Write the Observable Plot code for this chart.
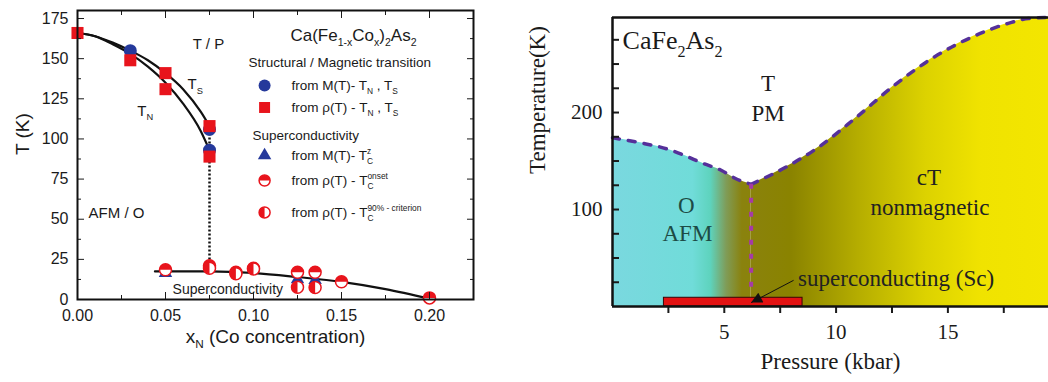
<!DOCTYPE html>
<html><head><meta charset="utf-8">
<script src="https://cdn.jsdelivr.net/npm/d3@7"></script>
<script src="https://cdn.jsdelivr.net/npm/@observablehq/plot@0.6"></script>
<style>
body{margin:0;background:#fff;}
#wrap{position:relative;width:1048px;height:382px;overflow:hidden;background:#fff;}
#left{position:absolute;left:0;top:0;}
#right{position:absolute;left:520px;top:0;}
</style></head><body><div id="wrap"><div id="left"></div><div id="right"></div></div>
<script>
// ================= Left panel data: Ca(Fe1-xCox)2As2 =================
const tsX = [0, 0.01, 0.02, 0.03, 0.04, 0.05, 0.06, 0.07, 0.075];
const tsT = [166, 164, 160, 155, 149, 141, 131, 117, 108];
const tnX = [0, 0.01, 0.02, 0.03, 0.04, 0.05, 0.06, 0.07, 0.075];
const tnT = [166, 164, 159, 153, 145, 135, 122, 105, 93];
const scX = [0.044, 0.075, 0.10, 0.125, 0.15, 0.175, 0.20];
const scT = [17.5, 17.5, 16.5, 14, 11, 6.5, 0.5];
const mMagX = [0.03, 0.075, 0.075];
const mMagT = [155, 106, 93];
const rMagX = [0, 0.03, 0.05, 0.05, 0.075, 0.075];
const rMagT = [166, 149, 141, 131, 108, 89];
const mScX = [0.05, 0.125, 0.135];
const mScT = [16.5, 12.5, 12];
const onsetX = [0.05, 0.075, 0.09, 0.10, 0.125, 0.135, 0.15, 0.20];
const onsetT = [18.5, 21, 17, 19.5, 17, 17, 11, 1];
const c90X = [0.075, 0.09, 0.10, 0.125, 0.135];
const c90T = [19.5, 16, 19, 7.6, 7.5];
const gapX = [0.075];
const gapT = [108, 22];
const lxTicks = [0, 0.05, 0.10, 0.15, 0.20];
const lxMinor = [0.025, 0.075, 0.125, 0.175];
const lyTicks = [0, 25, 50, 75, 100, 125, 150, 175];
const lyMinor = [12.5, 37.5, 62.5, 87.5, 112.5, 137.5, 162.5];
const legendTitle = "Ca(Fe_{1-x}Co_{x})_{2}As_{2}";
const legendHeads = ["Structural / Magnetic transition", "Superconductivity"];
const legendRows = ["from M(T)- T_{N} , T_{S}", "from ρ(T) - T_{N} , T_{S}",
  "from M(T)- T_{C}^{z}", "from ρ(T) - T_{C}^{onset}", "from ρ(T) - T_{C}^{90% - criterion}"];

// ================= Right panel data: CaFe2As2 =================
const afmP = [0, 1.2, 2.5, 3.2, 4.0, 4.9, 5.5, 6.2];
const afmT = [174, 169, 162, 156, 148, 140, 132, 126];
const ctP = [6.2, 7.7, 9.2, 10.9, 12.6, 14.3, 16.0, 17.7, 18.6, 19.5];
const ctT = [126, 143, 164, 195, 228, 256, 277, 292, 297, 298];
const scVertP = [6.2];
const scVertT = [126, 12];
const scBarP = [2.3, 8.5];
const scBarT = [0, 9];
const arrowP = [8.1, 6.2];
const arrowT = [27, 4];
const gradP = [0, 3.6, 4.4, 5.1, 5.8, 8, 11, 14, 16.5, 19.5];
const gradC = ["#7ad8df", "#70dcd9", "#5ed3bd", "#7f9c58", "#8a820e", "#8a8300", "#b5ad00", "#dcd200", "#f0e300", "#f3e600"];
const rxTicks = [5, 10, 15];
const rxMinor = [2.5, 7.5, 12.5, 17.5];
const ryTicks = [100, 200];
const ryMinor = [25, 50, 75, 125, 150, 175, 225, 250, 275];

// ================= helpers =================
const RED = "#e8141c", BLUE = "#25399b";
const zip = (xs, ys) => xs.map((x, i) => ({x, y: ys[i]}));
const halfTop = {draw(ctx, size) { const r = Math.sqrt(size / Math.PI); ctx.moveTo(-r, 0); ctx.arc(0, 0, r, Math.PI, 2 * Math.PI); ctx.closePath(); }};
const halfLeft = {draw(ctx, size) { const r = Math.sqrt(size / Math.PI); ctx.moveTo(0, -r); ctx.arc(0, 0, r, -Math.PI / 2, Math.PI / 2, true); ctx.closePath(); }};
const label = (t, x, y, o = {}) => Plot.text([t], {x: () => x, y: () => y, text: d => d, ...o});
const noText = () => "";

function richify(svg) {
  d3.select(svg).selectAll("text").each(function() {
    const el = this, s = el.textContent;
    if (!/[_^]\{/.test(s)) return;
    const fs = parseFloat(getComputedStyle(el).fontSize) || 16;
    const parts = s.split(/([_^]\{[^}]*\})/).filter(p => p !== "");
    while (el.firstChild) el.removeChild(el.firstChild);
    let shift = 0, lastSub = null;
    for (const p of parts) {
      const t = document.createElementNS("http://www.w3.org/2000/svg", "tspan");
      if (p[0] === "_" && p[1] === "{") {
        const target = 0.3 * fs;
        t.textContent = p.slice(2, -1);
        t.setAttribute("font-size", 0.62 * fs);
        t.setAttribute("dy", target - shift);
        el.appendChild(t); shift = target; lastSub = t;
      } else if (p[0] === "^" && p[1] === "{") {
        const target = -0.42 * fs;
        t.textContent = p.slice(2, -1);
        t.setAttribute("font-size", 0.62 * fs);
        t.setAttribute("dy", target - shift);
        el.appendChild(t);
        if (lastSub) t.setAttribute("dx", -lastSub.getComputedTextLength());
        shift = target; lastSub = null;
      } else {
        t.textContent = p;
        t.setAttribute("dy", -shift);
        el.appendChild(t); shift = 0; lastSub = null;
      }
    }
  });
}

// ================= Left plot =================
const LX = 0.1063, LT = 0.1216;
const left = Plot.plot({
  width: 520, height: 382, marginLeft: 77, marginRight: 47, marginTop: 10, marginBottom: 83,
  x: {domain: [0, 0.225]}, y: {domain: [0, 180]},
  style: {fontFamily: "'Liberation Sans', Arial, sans-serif", fontSize: "16px", color: "#1a1a1a", background: "white", overflow: "visible"},
  marks: [
    Plot.line(zip(tsX, tsT), {x: "x", y: "y", curve: "monotone-x", strokeWidth: 2.2, stroke: "#111"}),
    Plot.line(zip(tnX, tnT), {x: "x", y: "y", curve: "monotone-x", strokeWidth: 2.2, stroke: "#111"}),
    Plot.ruleX(gapX, {x: d => d, y1: gapT[0], y2: gapT[1], strokeWidth: 2.5, strokeDasharray: "2,2", stroke: "#111"}),
    Plot.line(zip(scX, scT), {x: "x", y: "y", curve: "monotone-x", strokeWidth: 2.2, stroke: "#111"}),
    Plot.dot(zip(mScX, mScT), {x: "x", y: "y", symbol: "triangle", r: 5, fill: BLUE}),
    Plot.dot(zip(onsetX, onsetT), {x: "x", y: "y", r: 6, fill: "white", stroke: RED, strokeWidth: 1.5}),
    Plot.dot(zip(onsetX, onsetT), {x: "x", y: "y", r: 6, symbol: halfTop, fill: RED}),
    Plot.dot(zip(c90X, c90T), {x: "x", y: "y", r: 6, fill: "white", stroke: RED, strokeWidth: 1.5}),
    Plot.dot(zip(c90X, c90T), {x: "x", y: "y", r: 6, symbol: halfLeft, fill: RED}),
    Plot.dot(zip(mMagX, mMagT), {x: "x", y: "y", r: 6.5, fill: BLUE}),
    Plot.dot(zip(rMagX, rMagT), {x: "x", y: "y", r: 6.8, symbol: "square", fill: RED}),
    // annotations
    label("T / P", 0.0744, 159, {fontSize: 15}),
    label("T_{S}", 0.0625, 134, {fontSize: 15, textAnchor: "start"}),
    label("T_{N}", 0.034, 117.5, {fontSize: 15, textAnchor: "start"}),
    label("AFM / O", 0.0063, 54, {fontSize: 15, textAnchor: "start"}),
    label("Superconductivity", 0.054, 6, {fontSize: 14, textAnchor: "start"}),
    // legend
    label(legendTitle, 0.121, 164.5, {fontSize: 17, textAnchor: "start"}),
    Plot.text(legendHeads, {x: [0.0972, 0.0994], y: [147.6, 102.1], text: d => d, fontSize: 13.5, textAnchor: "start"}),
    Plot.text(legendRows, {x: () => LT, y: [133.3, 119.6, 89.7, 74.1, 54.2], text: d => d, fontSize: 13.5, textAnchor: "start"}),
    Plot.dot([0], {x: () => LX, y: () => 133.3, r: 6, fill: BLUE}),
    Plot.dot([0], {x: () => LX, y: () => 119.6, r: 6.2, symbol: "square", fill: RED}),
    Plot.dot([0], {x: () => LX, y: () => 89.7, r: 5, symbol: "triangle", fill: BLUE}),
    Plot.dot([0], {x: () => LX, y: () => 74.1, r: 5.5, fill: "white", stroke: RED, strokeWidth: 1.5}),
    Plot.dot([0], {x: () => LX, y: () => 74.1, r: 5.5, symbol: halfTop, fill: RED}),
    Plot.dot([0], {x: () => LX, y: () => 54.2, r: 5.5, fill: "white", stroke: RED, strokeWidth: 1.5}),
    Plot.dot([0], {x: () => LX, y: () => 54.2, r: 5.5, symbol: halfLeft, fill: RED}),
    // axis titles
    Plot.text(["T (K)"], {frameAnchor: "left", rotate: -90, dx: -55, fontSize: 19, text: d => d}),
    Plot.text(["x_{N} (Co concentration)"], {frameAnchor: "bottom", dy: 43, fontSize: 19, text: d => d}),
    // axes (inward ticks, mirrored)
    Plot.axisX({anchor: "bottom", ticks: lxTicks, tickSize: -7, tickPadding: 17, tickFormat: d3.format(".2f"), label: null}),
    Plot.axisX({anchor: "bottom", ticks: lxMinor, tickSize: -4, tickFormat: noText, label: null}),
    Plot.axisX({anchor: "top", ticks: lxTicks, tickSize: -7, tickFormat: noText, label: null}),
    Plot.axisX({anchor: "top", ticks: lxMinor, tickSize: -4, tickFormat: noText, label: null}),
    Plot.axisY({anchor: "left", ticks: lyTicks, tickSize: -7, tickPadding: 16, label: null}),
    Plot.axisY({anchor: "left", ticks: lyMinor, tickSize: -4, tickFormat: noText, label: null}),
    Plot.axisY({anchor: "right", ticks: lyTicks, tickSize: -7, tickFormat: noText, label: null}),
    Plot.axisY({anchor: "right", ticks: lyMinor, tickSize: -4, tickFormat: noText, label: null}),
    Plot.frame({stroke: "#111", strokeWidth: 2})
  ]
});
document.getElementById("left").appendChild(left);
richify(left);

// ================= Right plot =================
const boundary = afmP.map((p, i) => ({p, t: afmT[i], seg: "afm"}))
  .concat(ctP.map((p, i) => ({p, t: ctT[i], seg: "ct"})));
const RW = 528, RML = 92, RMR = 0, RMT = 17, RMB = 76, PMAX = 19.5, TMAX = 298;
const serif = "'Liberation Serif', 'Times New Roman', serif";
const right = Plot.plot({
  width: RW, height: 382, marginLeft: RML, marginRight: RMR, marginTop: RMT, marginBottom: RMB,
  x: {domain: [0, PMAX]}, y: {domain: [0, TMAX]},
  style: {fontFamily: serif, fontSize: "21px", color: "#1a1a1a", background: "transparent", overflow: "visible"},
  marks: [
    Plot.areaY(boundary, {x: "p", y1: 0, y2: "t", z: "seg", fill: "url(#phaseGrad)", curve: "monotone-x"}),
    Plot.line(boundary, {x: "p", y: "t", z: "seg", stroke: "#55309a", strokeWidth: 3.5, strokeDasharray: "7,9", curve: "monotone-x"}),
    Plot.ruleX(scVertP, {x: d => d, y1: scVertT[0], y2: scVertT[1], stroke: "#a53aa6", strokeWidth: 4, strokeDasharray: "5,9"}),
    Plot.rect([0], {x1: () => scBarP[0], x2: () => scBarP[1], y1: () => scBarT[0], y2: () => scBarT[1], fill: "#e31212", stroke: "#3a0505", strokeWidth: 1}),
    Plot.link([0], {x1: () => arrowP[0], y1: () => arrowT[0], x2: () => arrowP[1], y2: () => arrowT[1], stroke: "#111", strokeWidth: 1}),
    label("CaFe_{2}As_{2}", 0.45, 274, {fontSize: 26, textAnchor: "start"}),
    label("T", 6.96, 230, {fontSize: 23}),
    label("PM", 6.96, 199, {fontSize: 23}),
    label("O", 3.3, 104, {fontSize: 23, fill: "#1d4b45"}),
    label("AFM", 3.35, 75, {fontSize: 23, fill: "#1d4b45"}),
    label("cT", 14.15, 133, {fontSize: 23, fill: "#222"}),
    label("nonmagnetic", 14.2, 102, {fontSize: 23, fill: "#222"}),
    label("superconducting (Sc)", 8.3, 29, {fontSize: 23, textAnchor: "start", fill: "#222"}),
    Plot.text(["Temperature(K)"], {frameAnchor: "left", rotate: -90, dx: -75, dy: 12, fontSize: 23, text: d => d}),
    Plot.text(["Pressure (kbar)"], {frameAnchor: "bottom", dy: 62, fontSize: 23, text: d => d}),
    Plot.axisX({anchor: "bottom", ticks: rxTicks, tickSize: 7, tickPadding: 11, strokeWidth: 2, label: null}),
    Plot.axisX({anchor: "bottom", ticks: rxMinor, tickSize: 7, strokeWidth: 2, tickFormat: noText, label: null}),
    Plot.axisY({anchor: "left", ticks: ryTicks, tickSize: -7, tickPadding: 17, strokeWidth: 2, label: null}),
    Plot.axisY({anchor: "left", ticks: ryMinor, tickSize: -7, strokeWidth: 2, tickFormat: noText, label: null}),
    Plot.ruleX([0], {stroke: "#111", strokeWidth: 2.5}),
    Plot.ruleY([0, TMAX], {stroke: "#111", strokeWidth: 2.5})
  ]
});
document.getElementById("right").appendChild(right);
// gradient + arrowhead definitions
const defs = d3.select(right).insert("defs", ":first-child");
const grad = defs.append("linearGradient").attr("id", "phaseGrad").attr("gradientUnits", "userSpaceOnUse")
  .attr("x1", RML).attr("x2", RW - RMR).attr("y1", 0).attr("y2", 0);
gradP.forEach((p, i) => grad.append("stop").attr("offset", p / PMAX).attr("stop-color", gradC[i]));
defs.append("marker").attr("id", "ahead").attr("viewBox", "0 0 10 10").attr("refX", 10).attr("refY", 5)
  .attr("markerWidth", 16).attr("markerHeight", 11).attr("markerUnits", "userSpaceOnUse").attr("orient", "auto")
  .append("path").attr("d", "M0,0L10,5L0,10Z").attr("fill", "#111");
d3.select(right).selectAll("g[aria-label=link] path").attr("marker-end", "url(#ahead)");
richify(right);
</script>
</body></html>
